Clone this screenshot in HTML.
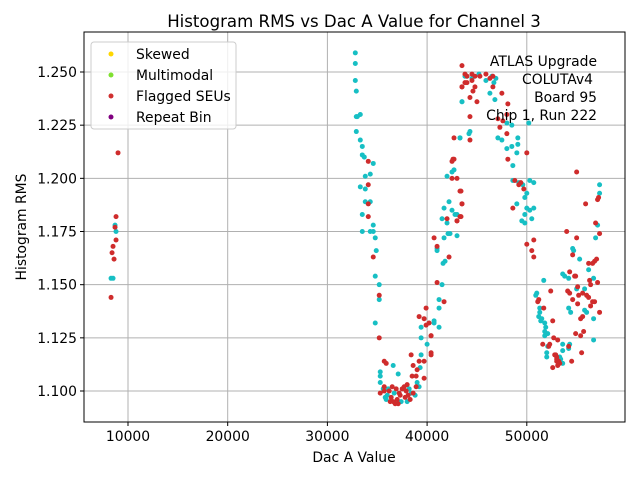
<!DOCTYPE html>
<html><head><meta charset="utf-8"><style>
html,body{margin:0;padding:0;background:#fff;width:640px;height:480px;overflow:hidden}
svg{font-family:"DejaVu Sans","Liberation Sans",sans-serif}
</style></head><body>
<svg id="chart" width="640" height="480" xmlns="http://www.w3.org/2000/svg">
<rect width="640" height="480" fill="#fff"/>
<text x="354" y="27" font-size="16.6" text-anchor="middle">Histogram RMS vs Dac A Value for Channel 3</text>
<text x="354" y="462" font-size="13.9" text-anchor="middle">Dac A Value</text>
<text transform="translate(26,227) rotate(-90)" font-size="13.9" text-anchor="middle">Histogram RMS</text>
<g id="grid"></g><g id="pts"></g><g id="axes"></g>
<g font-size="13.9" text-anchor="end">
<text x="597" y="66">ATLAS Upgrade</text>
<text x="593" y="84">COLUTAv4</text>
<text x="597" y="102">Board 95</text>
<text x="597" y="120">Chip 1, Run 222</text>
</g>
<g>
<rect x="91" y="42" width="145" height="87" fill="#fff" fill-opacity="0.8" stroke="#ccc" rx="3"/>
<circle cx="111" cy="54" r="2.5" fill="#ffd700"/>
<text x="136" y="59" font-size="13.9">Skewed</text>
<circle cx="111" cy="75" r="2.5" fill="#7fe030"/>
<text x="136" y="80" font-size="13.9">Multimodal</text>
<circle cx="111" cy="96" r="2.5" fill="#d03030"/>
<text x="136" y="101" font-size="13.9">Flagged SEUs</text>
<circle cx="111" cy="117" r="2.5" fill="#800080"/>
<text x="136" y="122" font-size="13.9">Repeat Bin</text>
</g>
</svg>
<script>
const xTicks=[10000,20000,30000,40000,50000];
const xTickLabels=["10000","20000","30000","40000","50000"];
const yTicks=[1.100,1.125,1.150,1.175,1.200,1.225,1.250];
const yTickLabels=["1.100","1.125","1.150","1.175","1.200","1.225","1.250"];
// cyan (normal) points: dac in thousands, rms
const cyanDac=[8.3,8.5,8.7,8.8,32.8,32.8,32.8,32.9,32.9,33.0,33.3,32.9,33.3,33.5,33.5,33.7,34.6,33.8,34.3,33.3,33.8,33.8,34.3,33.5,34.6,33.5,34.3,34.6,34.8,34.9,34.8,35.2,35.2,34.8,35.3,35.3,35.3,36.6,37.1,36.1,35.8,38.0,38.4,39.0,39.3,39.4,39.4,40.0,39.4,40.7,40.7,41.2,41.2,41.2,41.5,41.6,41.8,41.0,41.0,41.7,42.1,42.3,43.0,41.5,42.0,41.7,42.2,42.5,42.8,43.0,42.0,42.5,42.7,43.3,43.5,43.8,44.2,44.3,43.3,43.5,46.3,46.8,44.0,44.5,45.2,45.9,46.5,46.9,46.7,48.0,48.5,47.1,47.5,49.1,48.0,48.5,49.1,49.0,48.6,50.2,48.6,49.2,49.6,50.3,50.7,50.0,49.8,49.0,50.0,50.7,50.3,49.8,50.5,49.5,49.8,57.3,57.1,56.9,54.7,54.6,55.3,56.2,56.7,51.7,53.8,53.6,54.2,55.0,55.8,51.0,50.9,51.3,51.3,54.2,54.4,55.8,56.0,56.7,51.2,51.4,51.5,51.8,51.9,51.8,51.8,52.1,52.1,53.6,53.6,54.3,56.7,54.2,52.0,52.0,53.4,53.6,53.3,35.6,36.0,36.7,37.4,38.2,38.8,39.2,35.9,57.3];
const cyanRms=[1.153,1.153,1.178,1.175,1.259,1.254,1.246,1.241,1.229,1.229,1.230,1.222,1.218,1.215,1.211,1.210,1.207,1.201,1.202,1.196,1.195,1.189,1.189,1.183,1.178,1.175,1.175,1.175,1.172,1.166,1.154,1.150,1.143,1.132,1.109,1.107,1.104,1.112,1.108,1.101,1.097,1.095,1.099,1.104,1.111,1.117,1.125,1.122,1.130,1.132,1.133,1.130,1.143,1.139,1.150,1.160,1.161,1.166,1.167,1.172,1.174,1.174,1.173,1.181,1.179,1.186,1.189,1.185,1.183,1.183,1.201,1.203,1.204,1.219,1.236,1.248,1.221,1.222,1.219,1.236,1.240,1.237,1.248,1.247,1.249,1.246,1.248,1.247,1.245,1.226,1.225,1.219,1.218,1.219,1.214,1.215,1.216,1.212,1.206,1.226,1.199,1.198,1.197,1.199,1.198,1.193,1.191,1.188,1.186,1.186,1.185,1.183,1.181,1.180,1.179,1.197,1.178,1.172,1.166,1.167,1.162,1.157,1.153,1.152,1.154,1.155,1.153,1.148,1.148,1.146,1.145,1.139,1.137,1.139,1.137,1.138,1.137,1.134,1.135,1.133,1.134,1.132,1.130,1.126,1.128,1.127,1.121,1.122,1.119,1.122,1.124,1.120,1.118,1.116,1.115,1.113,1.116,1.101,1.098,1.099,1.095,1.101,1.098,1.102,1.096,1.193];
// red (flagged SEU) points
const redDac=[8.3,8.4,8.5,8.6,8.7,8.8,8.8,9.0,34.1,34.1,34.1,34.1,34.6,35.2,35.2,35.7,35.9,35.7,35.7,35.3,38.4,38.6,39.0,39.2,39.7,38.5,38.9,38.9,39.7,39.2,39.7,39.9,39.9,40.2,40.4,40.4,40.4,40.4,41.0,41.7,42.2,40.7,41.0,42.0,43.0,43.3,43.5,43.3,42.5,42.7,42.5,43.0,42.7,43.5,43.5,43.8,43.8,44.3,43.4,43.5,43.4,43.0,42.6,44.0,44.5,44.8,45.3,45.9,46.3,46.6,44.0,44.5,44.6,44.8,44.3,45.0,43.5,46.6,47.5,44.3,48.1,47.1,47.6,48.0,47.3,48.0,48.1,50.0,49.4,49.2,49.7,48.8,48.6,50.7,50.0,50.5,50.7,36.2,36.4,36.6,36.8,37.0,37.3,37.5,37.7,37.9,38.1,38.3,36.3,37.1,37.8,38.0,36.9,38.6,36.5,37.2,55.0,55.9,57.1,57.2,56.9,57.3,54.0,55.0,54.6,56.8,57.0,56.6,56.2,57.1,56.3,56.4,54.8,54.9,54.1,54.3,52.4,51.1,51.2,51.7,55.2,55.6,56.0,56.2,56.6,56.8,56.4,54.6,55.1,55.1,57.3,55.6,55.4,52.6,52.7,53.1,51.6,52.3,52.2,54.9,55.7,55.4,55.5,54.2,54.5,52.8,52.9,53.0,53.2,53.0,53.3,53.1,53.0,52.6,54.3];
const redRms=[1.144,1.165,1.168,1.162,1.177,1.182,1.171,1.212,1.208,1.197,1.188,1.182,1.163,1.145,1.125,1.114,1.113,1.102,1.100,1.099,1.117,1.112,1.110,1.114,1.114,1.107,1.107,1.102,1.106,1.135,1.134,1.139,1.131,1.132,1.126,1.126,1.118,1.117,1.151,1.142,1.163,1.172,1.168,1.181,1.180,1.194,1.188,1.182,1.208,1.209,1.200,1.200,1.219,1.243,1.253,1.249,1.245,1.218,1.194,1.188,1.182,1.180,1.209,1.248,1.249,1.248,1.248,1.249,1.247,1.248,1.245,1.246,1.241,1.243,1.238,1.236,1.243,1.243,1.240,1.229,1.235,1.228,1.227,1.230,1.224,1.221,1.209,1.212,1.198,1.197,1.195,1.199,1.186,1.171,1.169,1.166,1.163,1.100,1.097,1.095,1.094,1.096,1.098,1.101,1.102,1.100,1.098,1.096,1.095,1.094,1.097,1.103,1.101,1.099,1.102,1.099,1.203,1.188,1.190,1.191,1.179,1.174,1.175,1.172,1.164,1.161,1.162,1.160,1.160,1.151,1.152,1.150,1.154,1.154,1.147,1.146,1.147,1.142,1.143,1.139,1.145,1.146,1.145,1.144,1.142,1.142,1.140,1.143,1.141,1.149,1.137,1.135,1.134,1.133,1.125,1.124,1.122,1.122,1.121,1.127,1.128,1.126,1.118,1.121,1.114,1.117,1.117,1.116,1.114,1.114,1.113,1.112,1.115,1.111,1.156];
const X0=84,X1=625,Y0=32,Y1=422,xmin=5587,xmax=59850,ymin=1.08543,ymax=1.26881;
function sx(v){return X0+(v-xmin)/(xmax-xmin)*(X1-X0);}
function sy(v){return Y1-(v-ymin)/(ymax-ymin)*(Y1-Y0);}
const NS="http://www.w3.org/2000/svg";
function mk(tag,attrs,parent){const e=document.createElementNS(NS,tag);for(const k in attrs)e.setAttribute(k,attrs[k]);parent.appendChild(e);return e;}
const grid=document.getElementById('grid'),axes=document.getElementById('axes'),pts=document.getElementById('pts');
xTicks.forEach((t,i)=>{const x=sx(t);
 const g=mk('line',{x1:x,x2:x,y1:Y0,y2:Y1,stroke:'#b0b0b0','stroke-width':1},grid);
 
 
 mk('line',{x1:x,x2:x,y1:Y1,y2:Y1+4,stroke:'#000'},axes);
 const tx=mk('text',{x:x,y:Y1+19,'font-size':13.9,'text-anchor':'middle'},axes);tx.textContent=xTickLabels[i];
 
 });
yTicks.forEach((t,i)=>{const y=sy(t);
 const g=mk('line',{x1:X0,x2:X1,y1:y,y2:y,stroke:'#b0b0b0','stroke-width':1},grid);
 
 
 mk('line',{x1:X0-4,x2:X0,y1:y,y2:y,stroke:'#000'},axes);
 const tx=mk('text',{x:X0-7,y:y+5,'font-size':13.9,'text-anchor':'end'},axes);tx.textContent=yTickLabels[i];
 
 });
const fr=mk('rect',{x:X0,y:Y0,width:X1-X0,height:Y1-Y0,fill:'none',stroke:'#000','stroke-width':1},axes);


cyanDac.forEach((d,i)=>{const c=mk('circle',{cx:sx(d*1000),cy:sy(cyanRms[i]),r:2.5,fill:'#17bfc4'},pts);
 
 });
redDac.forEach((d,i)=>{const c=mk('circle',{cx:sx(d*1000),cy:sy(redRms[i]),r:2.5,fill:'#cf2c2c'},pts);
 
 });
</script>
</body></html>
